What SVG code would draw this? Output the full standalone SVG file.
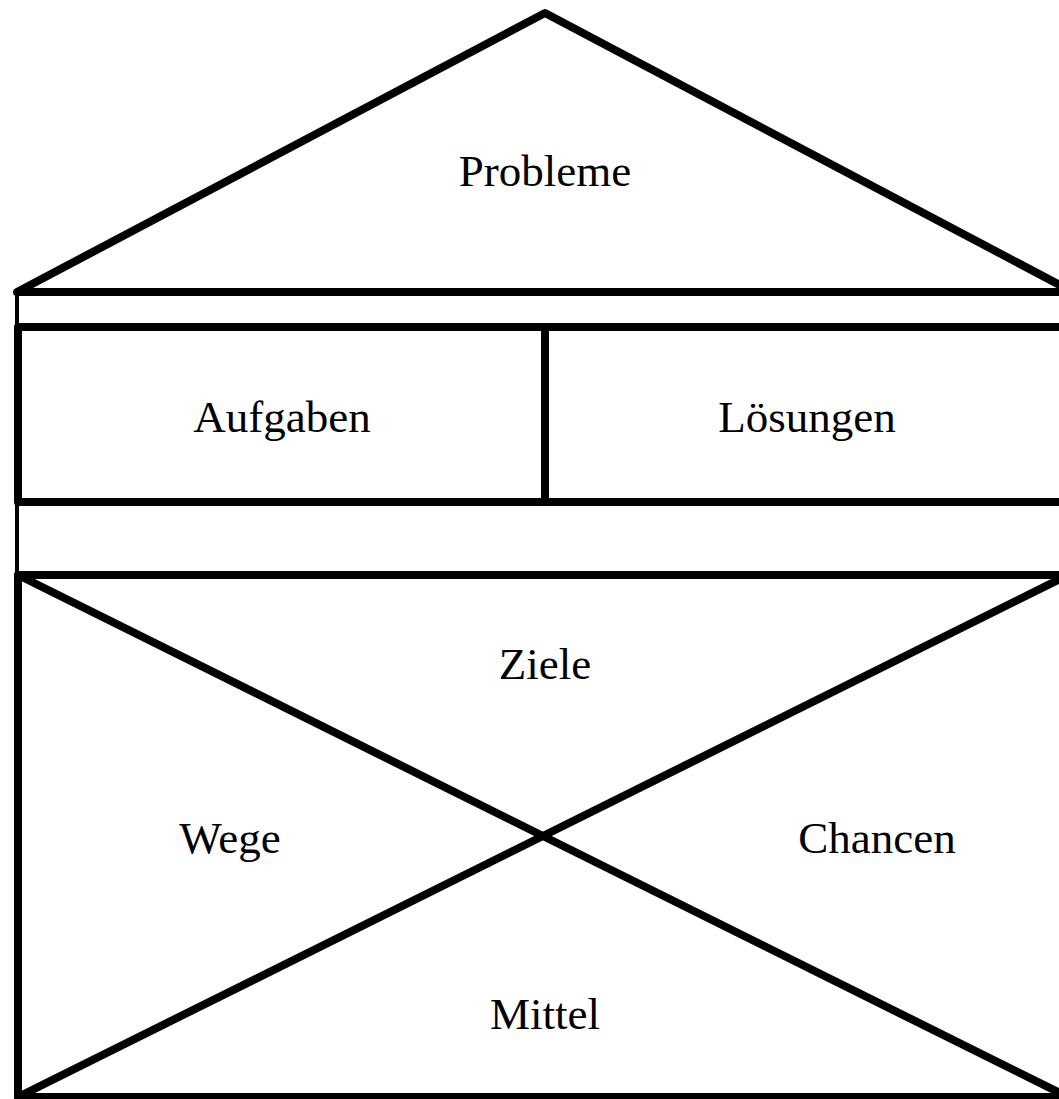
<svg xmlns="http://www.w3.org/2000/svg" width="1059" height="1099" viewBox="0 0 1059 1099">
<style>
.s{fill:none;stroke:#000;stroke-width:8;stroke-linejoin:round;stroke-linecap:round}
.t{fill:none;stroke:#000;stroke-width:4;stroke-linecap:round}
.l{font-family:"Liberation Serif","Times New Roman",serif;font-size:45px;fill:#000;text-anchor:middle}
</style>
<rect x="0" y="0" width="1059" height="1099" fill="#fff"/>
<g id="connectors">
<line class="t" x1="17" y1="292" x2="17" y2="575"/>
</g>
<g id="roof">
<polygon class="s" points="17,292 545,13 1073,292"/>
<text class="l" x="545" y="186">Probleme</text>
</g>
<g id="aufgaben">
<polyline class="s" points="545,327 18,327 18,502 545,502 545,327"/>
<text class="l" x="282" y="432">Aufgaben</text>
</g>
<g id="loesungen">
<line class="s" x1="545" y1="327" x2="1075" y2="327"/>
<line class="s" x1="545" y1="502" x2="1075" y2="502"/>
<text class="l" x="807" y="432">Lösungen</text>
</g>
<g id="basis">
<rect class="s" x="18" y="575" width="1050" height="522"/>
<line class="s" x1="18" y1="575" x2="1068" y2="1097"/>
<line class="s" x1="18" y1="1097" x2="1068" y2="575"/>
</g>
<g id="ziele"><text class="l" x="545" y="679">Ziele</text></g>
<g id="wege"><text class="l" x="230" y="853">Wege</text></g>
<g id="chancen"><text class="l" x="877" y="853">Chancen</text></g>
<g id="mittel"><text class="l" x="545" y="1029">Mittel</text></g>
</svg>
